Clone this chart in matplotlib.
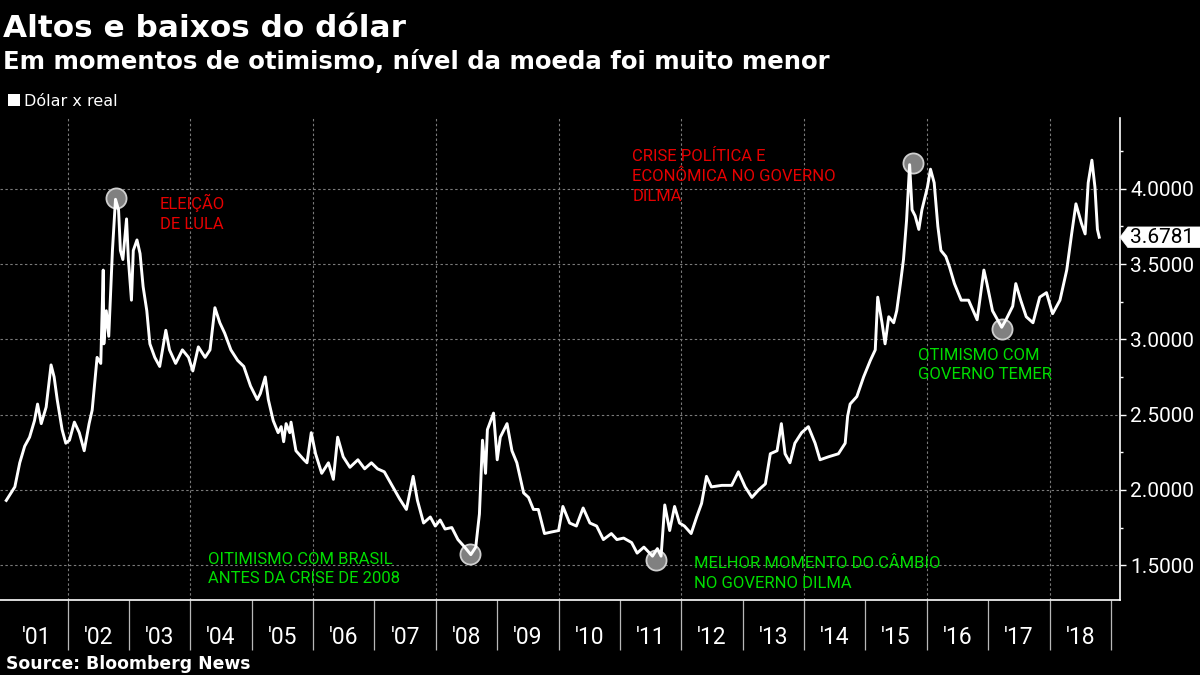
import matplotlib
matplotlib.use('Agg')
import matplotlib.pyplot as plt
from matplotlib.path import Path
from matplotlib.patches import Rectangle
from matplotlib.ticker import MultipleLocator, FixedLocator, NullFormatter

plt.rcParams['font.family'] = ['DejaVu Sans']

# ---------------- data ----------------
years = [
    2001.00, 2001.14, 2001.22, 2001.30, 2001.38, 2001.46, 2001.51, 2001.57, 2001.65, 2001.73,
    2001.78, 2001.83, 2001.91, 2001.97, 2002.03, 2002.11, 2002.19, 2002.27, 2002.35, 2002.40,
    2002.48, 2002.54, 2002.58, 2002.59, 2002.63, 2002.67, 2002.73, 2002.78, 2002.83, 2002.86,
    2002.90, 2002.96, 2002.99, 2003.04, 2003.07, 2003.13, 2003.18, 2003.23, 2003.29, 2003.34,
    2003.42, 2003.50, 2003.60, 2003.66, 2003.76, 2003.87, 2003.97, 2004.04, 2004.13, 2004.24,
    2004.32, 2004.40, 2004.48, 2004.56, 2004.66, 2004.77, 2004.87, 2004.98, 2005.09, 2005.14,
    2005.22, 2005.27, 2005.35, 2005.43, 2005.48, 2005.52, 2005.56, 2005.62, 2005.64, 2005.72,
    2005.85, 2005.90, 2005.97, 2006.04, 2006.14, 2006.25, 2006.33, 2006.40, 2006.49, 2006.60,
    2006.73, 2006.84, 2006.95, 2007.05, 2007.16, 2007.30, 2007.41, 2007.52, 2007.63, 2007.70,
    2007.80, 2007.91, 2007.99, 2008.07, 2008.15, 2008.26, 2008.36, 2008.47, 2008.57, 2008.65,
    2008.71, 2008.76, 2008.81, 2008.84, 2008.94, 2009.00, 2009.05, 2009.16, 2009.24, 2009.32,
    2009.43, 2009.51, 2009.59, 2009.67, 2009.77, 2009.88, 2010.00, 2010.07, 2010.18, 2010.29,
    2010.40, 2010.51, 2010.62, 2010.73, 2010.86, 2010.95, 2011.06, 2011.19, 2011.28, 2011.39,
    2011.53, 2011.61, 2011.67, 2011.73, 2011.81, 2011.89, 2011.97, 2012.05, 2012.16, 2012.25,
    2012.33, 2012.41, 2012.49, 2012.66, 2012.82, 2012.93, 2013.04, 2013.15, 2013.26, 2013.37,
    2013.45, 2013.56, 2013.63, 2013.69, 2013.77, 2013.85, 2013.96, 2014.07, 2014.18, 2014.26,
    2014.40, 2014.56, 2014.67, 2014.71, 2014.75, 2014.86, 2014.97, 2015.08, 2015.16, 2015.20,
    2015.27, 2015.32, 2015.38, 2015.46, 2015.51, 2015.57, 2015.62, 2015.67, 2015.72, 2015.76,
    2015.81, 2015.87, 2015.92, 2016.01, 2016.06, 2016.12, 2016.18, 2016.23, 2016.31, 2016.37,
    2016.45, 2016.56, 2016.68, 2016.82, 2016.93, 2016.98, 2017.07, 2017.18, 2017.22, 2017.29,
    2017.40, 2017.45, 2017.53, 2017.62, 2017.73, 2017.84, 2017.95, 2018.05, 2018.17, 2018.28,
    2018.36, 2018.43, 2018.52, 2018.58, 2018.63, 2018.69, 2018.74, 2018.78, 2018.81,
]
values = [
    1.93, 2.02, 2.18, 2.29, 2.35, 2.46, 2.57, 2.44, 2.55, 2.83,
    2.75, 2.60, 2.40, 2.31, 2.33, 2.45, 2.38, 2.26, 2.44, 2.53,
    2.88, 2.84, 3.46, 2.97, 3.19, 3.02, 3.59, 3.93, 3.86, 3.59,
    3.53, 3.80, 3.53, 3.26, 3.59, 3.66, 3.57, 3.35, 3.19, 2.97,
    2.88, 2.82, 3.06, 2.93, 2.84, 2.93, 2.88, 2.79, 2.95, 2.88,
    2.93, 3.21, 3.11, 3.04, 2.93, 2.86, 2.82, 2.69, 2.60, 2.64,
    2.75, 2.60, 2.46, 2.38, 2.42, 2.32, 2.44, 2.38, 2.45, 2.26,
    2.20, 2.18, 2.38, 2.24, 2.11, 2.18, 2.07, 2.35, 2.22, 2.15,
    2.20, 2.14, 2.18, 2.14, 2.12, 2.02, 1.94, 1.87, 2.09, 1.93,
    1.78, 1.82, 1.76, 1.80, 1.74, 1.75, 1.67, 1.62, 1.57, 1.62,
    1.84, 2.33, 2.11, 2.40, 2.51, 2.20, 2.35, 2.44, 2.26, 2.18,
    1.98, 1.95, 1.87, 1.87, 1.71, 1.72, 1.73, 1.89, 1.78, 1.76,
    1.88, 1.78, 1.76, 1.67, 1.71, 1.67, 1.68, 1.65, 1.58, 1.62,
    1.56, 1.61, 1.56, 1.90, 1.73, 1.89, 1.78, 1.76, 1.71, 1.82,
    1.91, 2.09, 2.02, 2.03, 2.03, 2.12, 2.02, 1.95, 2.00, 2.04,
    2.24, 2.26, 2.44, 2.24, 2.18, 2.31, 2.38, 2.42, 2.31, 2.20,
    2.22, 2.24, 2.31, 2.49, 2.57, 2.62, 2.75, 2.86, 2.93, 3.28,
    3.11, 2.97, 3.15, 3.11, 3.19, 3.37, 3.53, 3.79, 4.16, 3.86,
    3.82, 3.73, 3.86, 4.01, 4.13, 4.04, 3.75, 3.59, 3.55, 3.48,
    3.37, 3.26, 3.26, 3.13, 3.46, 3.37, 3.19, 3.11, 3.08, 3.13,
    3.22, 3.37, 3.26, 3.15, 3.11, 3.28, 3.31, 3.17, 3.26, 3.46,
    3.70, 3.90, 3.77, 3.70, 4.04, 4.19, 4.01, 3.73, 3.6781,
]
marker_years = [2002.79, 2008.55, 2011.58, 2015.77, 2017.22]
marker_values = [3.937, 1.571, 1.533, 4.169, 3.066]

tick_years = list(range(2002, 2020))
label_years = [y + 0.5 for y in range(2001, 2019)]
year_labels = ["'%02d" % (y % 100) for y in range(2001, 2019)]
y_ticks = [1.5, 2.0, 2.5, 3.0, 3.5, 4.0]
y_labels = ['%.4f' % v for v in y_ticks]
grid_years = [2002, 2004, 2006, 2008, 2010, 2012, 2014, 2016, 2018]
last_value = values[-1]

series_name = 'Dólar x real'
title = 'Altos e baixos do dólar'
subtitle = 'Em momentos de otimismo, nível da moeda foi muito menor'
source = 'Source: Bloomberg News'

RED = '#e60000'
GREEN = '#00dd00'
notes = [
    ('ELEIÇÃO\nDE LULA', 2003.505, 3.965, RED),
    ('CRISE POLÍTICA E\nECONÔMICA NO GOVERNO\nDILMA', 2011.20, 4.265, RED),
    ('OTIMISMO COM\nGOVERNO TEMER', 2015.86, 2.945, GREEN),
    ('OITIMISMO COM BRASIL\nANTES DA CRISE DE 2008', 2004.292, 1.590, GREEN),
    ('MELHOR MOMENTO DO CÂMBIO\nNO GOVERNO DILMA', 2012.211, 1.560, GREEN),
]

# ---------------- figure ----------------
W, H = 1200, 675
fig = plt.figure(figsize=(12, 6.75), dpi=100, facecolor='black')
ax = fig.add_axes([0, 1 - 599.5 / H, 1120 / W, (599.5 - 118.3) / H])
ax.set_facecolor('black')
ax.set_xlim(2000.898, 2019.148)
ax.set_ylim(1.272, 4.468)

# grid
for yv in y_ticks:
    ax.axhline(yv, color='#7a7a7a', lw=0.8, ls=(0, (2.2, 2.2)), zorder=0)
for gx in grid_years:
    ax.axvline(gx, color='#7a7a7a', lw=0.8, ls=(0, (2.2, 2.2)), zorder=0)

# markers & line
ax.plot(marker_years, marker_values, 'o', ms=14.5, mfc='#808080', mec='#cfcfcf',
        mew=1.3, zorder=2, ls='none')
ax.plot(years, values, color='white', lw=2.1, zorder=3, solid_joinstyle='round')

# spines
for s in ['top', 'left']:
    ax.spines[s].set_visible(False)
for s in ['right', 'bottom']:
    ax.spines[s].set_color('white')
    ax.spines[s].set_linewidth(1.2)

# y axis (right)
ax.yaxis.tick_right()
ax.yaxis.set_major_locator(FixedLocator(y_ticks))
ax.set_yticklabels(y_labels, fontfamily='Roboto')
ax.yaxis.set_minor_locator(MultipleLocator(0.25))
ax.tick_params(axis='y', which='major', direction='out', length=4.5, width=1.0,
               color='white', labelcolor='white', labelsize=15, pad=3)
ax.tick_params(axis='y', which='minor', direction='out', length=2.5, width=1.0,
               color='white')

# x axis
ax.xaxis.set_major_locator(FixedLocator(tick_years))
ax.xaxis.set_major_formatter(NullFormatter())
ax.xaxis.set_minor_locator(FixedLocator(label_years))
ax.set_xticklabels(year_labels, minor=True, fontfamily='Roboto')
ax.tick_params(axis='x', which='major', direction='out', length=36, width=0.9,
               color='#b8b8b8')
ax.tick_params(axis='x', which='minor', length=0, pad=19, labelsize=16.5,
               labelcolor='white')

# annotations
for txt, xv, yv, col in notes:
    ax.text(xv, yv, txt, color=col, fontsize=12, family='Roboto',
            ha='left', va='top', zorder=4, linespacing=1.38)

# last value tag
def tag_box(x0, y0, width, height, mutation_size):
    p = 0.25 * mutation_size
    xa = x0 - p * 0.5
    xb = x0 + width + p * 3
    ya = y0 - p * 0.15
    yb = y0 + height + p * 0.15
    tip = xa - (yb - ya) * 0.38
    ym = 0.5 * (ya + yb)
    verts = [(tip, ym), (xa, ya), (xb, ya), (xb, yb), (xa, yb), (tip, ym)]
    codes = [Path.MOVETO] + [Path.LINETO] * 4 + [Path.CLOSEPOLY]
    return Path(verts, codes)

ax.annotate('%.4f' % last_value, xy=(1, last_value), xycoords=('axes fraction', 'data'),
            xytext=(7.5, 0), textcoords='offset points', ha='left', va='center',
            fontsize=15, fontfamily='Roboto', color='black', annotation_clip=False,
            bbox=dict(boxstyle=tag_box, fc='white', ec='white', lw=0.5))

# titles, legend, source
fig.text(3 / W, 1 - 37 / H, title, color='white', fontsize=22.4, fontweight='bold',
         va='baseline', ha='left')
fig.text(3 / W, 1 - 69 / H, subtitle, color='white', fontsize=17.6, fontweight='bold',
         va='baseline', ha='left')
fig.patches.append(Rectangle((8 / W, 1 - 106 / H), 12 / W, 12 / H, transform=fig.transFigure,
                             facecolor='white', edgecolor='none'))
fig.text(24 / W, 1 - 106 / H, series_name, color='white', fontsize=11.5,
         va='baseline', ha='left')
fig.text(6 / W, 1 - 669 / H, source, color='white', fontsize=12.4, fontweight='bold',
         va='baseline', ha='left')

fig.savefig('out.png', dpi=100, facecolor='black')
